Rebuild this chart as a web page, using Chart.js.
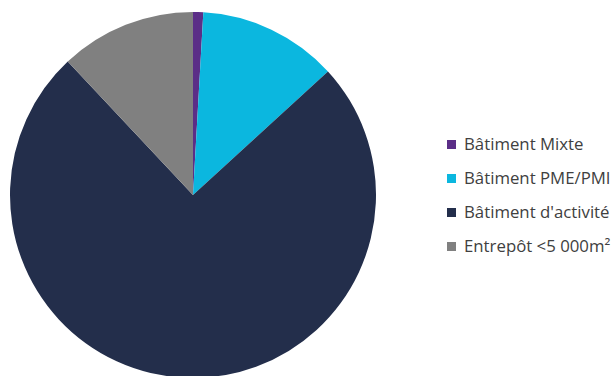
<!DOCTYPE html>
<html>
<head>
<meta charset="utf-8">
<script src="https://cdn.jsdelivr.net/npm/chart.js@4/dist/chart.umd.min.js"></script>
<style>
  html, body { margin: 0; padding: 0; background: #fff; overflow: hidden; width: 611px; height: 376px; }
  #wrap { position: absolute; left: 0; top: 0; width: 376px; height: 380px; }
  #legend { position: absolute; left: 447px; top: 127px; font-family: "Open Sans", sans-serif; font-size: 16.8px; color: #404040; }
  #legend div { height: 34px; line-height: 34px; white-space: nowrap; }
  #legend span { display: inline-block; width: 9px; height: 9px; margin-right: 8px; vertical-align: middle; position: relative; top: -1px; }
</style>
</head>
<body>
<div id="wrap"><canvas id="pie"></canvas></div>
<div id="legend"></div>
<script>
var labels = ["Bâtiment Mixte", "Bâtiment PME/PMI", "Bâtiment d'activité", "Entrepôt <5 000m²"];
var values = [0.9, 12.3, 74.8, 12.0];
var colors = ["#5B2E87", "#0BB7DF", "#232E4B", "#808080"];

var ctx = document.getElementById('pie').getContext('2d');
var pie = new Chart(ctx, {
	type: 'pie',
	data: {
		labels: labels,
		datasets: [{
			data: values,
			backgroundColor: colors,
			borderWidth: 0
		}]
	},
	options: {
		responsive: true,
		maintainAspectRatio: false,
		animation: false,
		layout: { padding: { left: 10, top: 12, right: 0, bottom: 2 } },
		plugins: {
			legend: { display: false },
			tooltip: { enabled: false }
		}
	}
});

// légende à droite, construite depuis les mêmes tableaux
var legend = document.getElementById('legend');
labels.forEach(function(l, i) {
	var row = document.createElement('div');
	var box = document.createElement('span');
	box.style.background = colors[i];
	row.appendChild(box);
	row.appendChild(document.createTextNode(l));
	legend.appendChild(row);
});
</script>
</body>
</html>
